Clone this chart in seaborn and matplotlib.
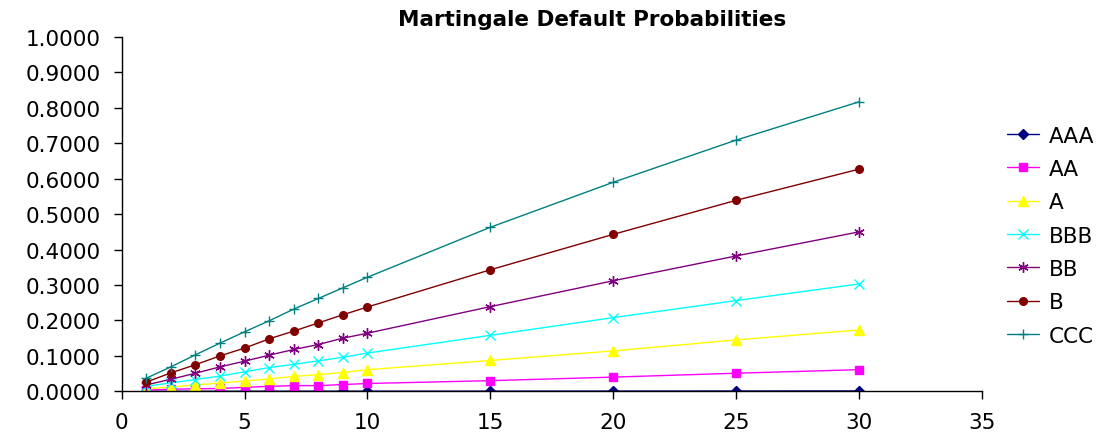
import matplotlib
matplotlib.use("Agg")
import matplotlib.pyplot as plt
import seaborn as sns
import pandas as pd

# data
years = [1, 2, 3, 4, 5, 6, 7, 8, 9, 10, 15, 20, 25, 30]
ratings = ["AAA", "AA", "A", "BBB", "BB", "B", "CCC"]
aaa = [0.0000, 0.0000, 0.0001, 0.0001, 0.0001, 0.0002, 0.0002, 0.0002, 0.0003, 0.0003, 0.0004, 0.0006, 0.0008, 0.0010]
aa = [0.003, 0.006, 0.007, 0.008, 0.011, 0.014, 0.016, 0.016, 0.019, 0.022, 0.030, 0.040, 0.051, 0.061]
a = [0.007, 0.012, 0.018, 0.023, 0.029, 0.035, 0.042, 0.047, 0.053, 0.061, 0.087, 0.114, 0.145, 0.173]
bbb = [0.014, 0.024, 0.033, 0.043, 0.055, 0.067, 0.076, 0.086, 0.096, 0.108, 0.158, 0.208, 0.256, 0.303]
bb = [0.018, 0.034, 0.051, 0.069, 0.085, 0.102, 0.118, 0.132, 0.150, 0.164, 0.239, 0.312, 0.382, 0.450]
b = [0.026, 0.052, 0.075, 0.100, 0.122, 0.148, 0.170, 0.193, 0.216, 0.238, 0.343, 0.443, 0.539, 0.627]
ccc = [0.037, 0.069, 0.103, 0.136, 0.168, 0.199, 0.232, 0.262, 0.292, 0.322, 0.463, 0.590, 0.709, 0.817]
y_ticks = [0.0, 0.1, 0.2, 0.3, 0.4, 0.5, 0.6, 0.7, 0.8, 0.9, 1.0]
x_ticks = [0, 5, 10, 15, 20, 25, 30, 35]

series = [aaa, aa, a, bbb, bb, b, ccc]
colors = ["#000080", "#FF00FF", "#FFFF00", "#00FFFF", "#800080", "#800000", "#008080"]
markers = ["D", "s", "^", "x", (6, 2, 0), "o", "+"]
msizes = [5, 5.5, 6.5, 6.5, 7.5, 5.5, 7.5]

sns.set_style("ticks")
plt.rcParams["font.family"] = ["DejaVu Sans"]
plt.rcParams["text.color"] = "black"

fig = plt.figure(figsize=(11.17, 4.39), dpi=100)
ax = fig.add_axes([0.109, 0.1064, 0.770, 0.807])

for name, vals, c, m, ms in zip(ratings, series, colors, markers, msizes):
    df = pd.DataFrame({"year": years, "pd": vals})
    sns.lineplot(data=df, x="year", y="pd", ax=ax, color=c, marker=m,
                 markersize=ms, markeredgecolor=c, markerfacecolor=c,
                 markeredgewidth=1.0, linewidth=1.0, label=name)

ax.set_xlim(0, 35)
ax.set_ylim(0, 1)
ax.set_xticks(x_ticks)
ax.set_yticks(y_ticks)
ax.set_yticklabels([f"{v:.4f}" for v in y_ticks])
ax.set_xlabel("")
ax.set_ylabel("")
ax.tick_params(axis="both", labelsize=15.5, length=6, width=1, color="black",
               labelcolor="black", direction="out")
ax.tick_params(axis="x", pad=9)
ax.tick_params(axis="y", pad=9)
for side in ["top", "right"]:
    ax.spines[side].set_visible(False)
for side in ["left", "bottom"]:
    ax.spines[side].set_color("black")
    ax.spines[side].set_linewidth(1)

fig.text(0.530, 1 - 20 / 439, "Martingale Default Probabilities",
         ha="center", va="center", fontsize=15.5, fontweight="bold",
         color="black")

ax.legend(loc="center left", bbox_to_anchor=(1007 / 1117, 0.461),
          bbox_transform=fig.transFigure, frameon=False, fontsize=15.5,
          handlelength=1.5, handletextpad=0.45, labelspacing=0.62,
          borderpad=0, borderaxespad=0)

fig.savefig("out.png", dpi=100)
